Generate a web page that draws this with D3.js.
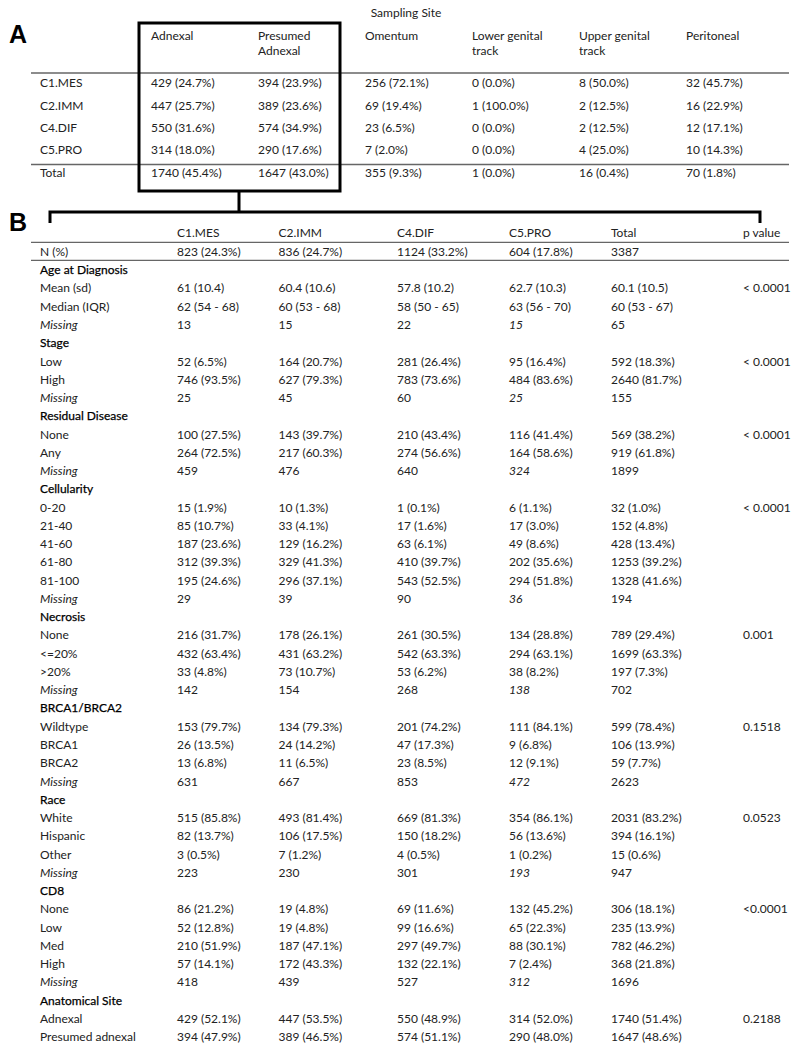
<!DOCTYPE html>
<html>
<head>
<meta charset="utf-8">
<script src="https://cdn.jsdelivr.net/npm/d3@7"></script>
<style>
  body { margin: 0; background: #fff; }
  text { font-family: Lato, "Open Sans", sans-serif; font-size: 12px; fill: #222; }
  .panel { font-family: "Liberation Sans", Arial, sans-serif; font-size: 25px; font-weight: bold; fill: #000; }
  .grp { fill: #000; stroke: #000; stroke-width: 0.25px; }
  .rule { stroke: #666; stroke-width: 1.3px; }
</style>
</head>
<body>
<div id="chart"></div>
<script>
// ---- Panel A: sampling site by cluster ----
var siteNames = ["Adnexal", "Presumed|Adnexal", "Omentum", "Lower genital|track", "Upper genital|track", "Peritoneal"];
var clusterNames = ["C1.MES", "C2.IMM", "C4.DIF", "C5.PRO"];
var siteC1 = ["429 (24.7%)", "394 (23.9%)", "256 (72.1%)", "0 (0.0%)", "8 (50.0%)", "32 (45.7%)"];
var siteC2 = ["447 (25.7%)", "389 (23.6%)", "69 (19.4%)", "1 (100.0%)", "2 (12.5%)", "16 (22.9%)"];
var siteC4 = ["550 (31.6%)", "574 (34.9%)", "23 (6.5%)", "0 (0.0%)", "2 (12.5%)", "12 (17.1%)"];
var siteC5 = ["314 (18.0%)", "290 (17.6%)", "7 (2.0%)", "0 (0.0%)", "4 (25.0%)", "10 (14.3%)"];
var siteTotal = ["1740 (45.4%)", "1647 (43.0%)", "355 (9.3%)", "1 (0.0%)", "16 (0.4%)", "70 (1.8%)"];

// ---- Panel B: clinical characteristics by cluster ----
var colNames = ["C1.MES", "C2.IMM", "C4.DIF", "C5.PRO", "Total", "p value"];
var nRow = ["823 (24.3%)", "836 (24.7%)", "1124 (33.2%)", "604 (17.8%)", "3387", ""];

var ageRows = [
    ["Mean (sd)", "61 (10.4)", "60.4 (10.6)", "57.8 (10.2)", "62.7 (10.3)", "60.1 (10.5)"],
    ["Median (IQR)", "62 (54 - 68)", "60 (53 - 68)", "58 (50 - 65)", "63 (56 - 70)", "60 (53 - 67)"],
    ["Missing", "13", "15", "22", "15", "65"]
];
var stageRows = [
    ["Low", "52 (6.5%)", "164 (20.7%)", "281 (26.4%)", "95 (16.4%)", "592 (18.3%)"],
    ["High", "746 (93.5%)", "627 (79.3%)", "783 (73.6%)", "484 (83.6%)", "2640 (81.7%)"],
    ["Missing", "25", "45", "60", "25", "155"]
];
var residualRows = [
    ["None", "100 (27.5%)", "143 (39.7%)", "210 (43.4%)", "116 (41.4%)", "569 (38.2%)"],
    ["Any", "264 (72.5%)", "217 (60.3%)", "274 (56.6%)", "164 (58.6%)", "919 (61.8%)"],
    ["Missing", "459", "476", "640", "324", "1899"]
];
var cellularityRows = [
    ["0-20", "15 (1.9%)", "10 (1.3%)", "1 (0.1%)", "6 (1.1%)", "32 (1.0%)"],
    ["21-40", "85 (10.7%)", "33 (4.1%)", "17 (1.6%)", "17 (3.0%)", "152 (4.8%)"],
    ["41-60", "187 (23.6%)", "129 (16.2%)", "63 (6.1%)", "49 (8.6%)", "428 (13.4%)"],
    ["61-80", "312 (39.3%)", "329 (41.3%)", "410 (39.7%)", "202 (35.6%)", "1253 (39.2%)"],
    ["81-100", "195 (24.6%)", "296 (37.1%)", "543 (52.5%)", "294 (51.8%)", "1328 (41.6%)"],
    ["Missing", "29", "39", "90", "36", "194"]
];
var necrosisRows = [
    ["None", "216 (31.7%)", "178 (26.1%)", "261 (30.5%)", "134 (28.8%)", "789 (29.4%)"],
    ["<=20%", "432 (63.4%)", "431 (63.2%)", "542 (63.3%)", "294 (63.1%)", "1699 (63.3%)"],
    [">20%", "33 (4.8%)", "73 (10.7%)", "53 (6.2%)", "38 (8.2%)", "197 (7.3%)"],
    ["Missing", "142", "154", "268", "138", "702"]
];
var brcaRows = [
    ["Wildtype", "153 (79.7%)", "134 (79.3%)", "201 (74.2%)", "111 (84.1%)", "599 (78.4%)"],
    ["BRCA1", "26 (13.5%)", "24 (14.2%)", "47 (17.3%)", "9 (6.8%)", "106 (13.9%)"],
    ["BRCA2", "13 (6.8%)", "11 (6.5%)", "23 (8.5%)", "12 (9.1%)", "59 (7.7%)"],
    ["Missing", "631", "667", "853", "472", "2623"]
];
var raceRows = [
    ["White", "515 (85.8%)", "493 (81.4%)", "669 (81.3%)", "354 (86.1%)", "2031 (83.2%)"],
    ["Hispanic", "82 (13.7%)", "106 (17.5%)", "150 (18.2%)", "56 (13.6%)", "394 (16.1%)"],
    ["Other", "3 (0.5%)", "7 (1.2%)", "4 (0.5%)", "1 (0.2%)", "15 (0.6%)"],
    ["Missing", "223", "230", "301", "193", "947"]
];
var cd8Rows = [
    ["None", "86 (21.2%)", "19 (4.8%)", "69 (11.6%)", "132 (45.2%)", "306 (18.1%)"],
    ["Low", "52 (12.8%)", "19 (4.8%)", "99 (16.6%)", "65 (22.3%)", "235 (13.9%)"],
    ["Med", "210 (51.9%)", "187 (47.1%)", "297 (49.7%)", "88 (30.1%)", "782 (46.2%)"],
    ["High", "57 (14.1%)", "172 (43.3%)", "132 (22.1%)", "7 (2.4%)", "368 (21.8%)"],
    ["Missing", "418", "439", "527", "312", "1696"]
];
var siteRows = [
    ["Adnexal", "429 (52.1%)", "447 (53.5%)", "550 (48.9%)", "314 (52.0%)", "1740 (51.4%)"],
    ["Presumed adnexal", "394 (47.9%)", "389 (46.5%)", "574 (51.1%)", "290 (48.0%)", "1647 (48.6%)"]
];

var groupNames = ["Age at Diagnosis", "Stage", "Residual Disease", "Cellularity", "Necrosis",
                  "BRCA1/BRCA2", "Race", "CD8", "Anatomical Site"];
var groupRows = [ageRows, stageRows, residualRows, cellularityRows, necrosisRows,
                 brcaRows, raceRows, cd8Rows, siteRows];
var pValues = ["< 0.0001", "< 0.0001", "< 0.0001", "< 0.0001", "0.001", "0.1518", "0.0523", "<0.0001", "0.2188"];

function init() {
    var w = 798, h = 1050;
    var lineLeft = 31, lineRight = 789;

    var svg = d3.select("#chart").append("svg")
        .attr("width", w)
        .attr("height", h);

    // ---------------- Panel A ----------------
    var xA = d3.scalePoint().domain(d3.range(siteNames.length)).range([151, 686]);
    var yA = d3.scaleLinear().domain([0, 4]).range([83, 172.5]);
    var rowsA = [siteC1, siteC2, siteC4, siteC5];

    svg.append("text").attr("class", "panel").attr("x", 9).attr("y", 43).text("A");

    svg.append("text")
        .attr("x", 406).attr("y", 17)
        .attr("text-anchor", "middle")
        .text("Sampling Site");

    // column headers (two lines)
    var headA = svg.append("g");
    siteNames.forEach(function (name, i) {
        var t = headA.append("text").attr("x", xA(i)).attr("y", 39.5);
        name.split("|").forEach(function (part, k) {
            t.append("tspan").attr("x", xA(i)).attr("dy", k === 0 ? 0 : 15.5).text(part);
        });
    });

    svg.append("line").attr("class", "rule")
        .attr("x1", lineLeft).attr("x2", lineRight).attr("y1", 73).attr("y2", 73);
    svg.append("line").attr("class", "rule")
        .attr("x1", lineLeft).attr("x2", lineRight).attr("y1", 164.5).attr("y2", 164.5);

    // body cells
    var allA = rowsA.concat([siteTotal]);
    var labelsA = clusterNames.concat(["Total"]);
    allA.forEach(function (row, r) {
        svg.append("text").attr("x", 40).attr("y", yA(r)).attr("dy", "0.35em").text(labelsA[r]);
        svg.selectAll(null)
            .data(row)
            .enter()
            .append("text")
            .attr("x", (d, i) => xA(i))
            .attr("y", yA(r))
            .attr("dy", "0.35em")
            .text(d => d);
    });

    // highlight box around adnexal columns
    svg.append("rect")
        .attr("x", 139).attr("y", 23)
        .attr("width", 201).attr("height", 168)
        .attr("fill", "none")
        .attr("stroke", "#000")
        .attr("stroke-width", 3);

    // bracket linking panel A to B
    svg.append("path")
        .attr("d", "M239,191 V212 M50,223 V212 H760 V223")
        .attr("fill", "none")
        .attr("stroke", "#000")
        .attr("stroke-width", 3);

    // ---------------- Panel B ----------------
    svg.append("text").attr("class", "panel").attr("x", 9).attr("y", 231).text("B");

    var xB = d3.scaleOrdinal().domain(colNames).range([177, 278.5, 397, 509, 611, 743]);

    svg.selectAll(null)
        .data(colNames)
        .enter()
        .append("text")
        .attr("x", d => xB(d))
        .attr("y", 232.5)
        .attr("dy", "0.35em")
        .text(d => d);

    svg.append("line").attr("class", "rule")
        .attr("x1", lineLeft).attr("x2", lineRight).attr("y1", 242.3).attr("y2", 242.3);

    svg.append("text").attr("x", 40).attr("y", 252).attr("dy", "0.35em").text("N (%)");
    svg.selectAll(null)
        .data(nRow)
        .enter()
        .append("text")
        .attr("x", (d, i) => xB(colNames[i]))
        .attr("y", 252)
        .attr("dy", "0.35em")
        .text(d => d);

    svg.append("line").attr("class", "rule")
        .attr("x1", lineLeft).attr("x2", lineRight).attr("y1", 260.3).attr("y2", 260.3);

    // flatten groups into ordered rows
    var flat = [];
    groupNames.forEach(function (g, gi) {
        flat.push({ type: "group", label: g });
        groupRows[gi].forEach(function (row, ri) {
            flat.push({ type: "row", label: row[0], values: row.slice(1), p: ri === 0 ? pValues[gi] : "" });
        });
    });

    var yB = d3.scaleLinear().domain([0, flat.length - 1]).range([270, 1037]);

    flat.forEach(function (d, r) {
        if (d.type === "group") {
            svg.append("text").attr("class", "grp")
                .attr("x", 40).attr("y", yB(r)).attr("dy", "0.35em")
                .text(d.label);
            return;
        }
        var missing = d.label === "Missing";
        svg.append("text")
            .attr("x", 40).attr("y", yB(r)).attr("dy", "0.35em")
            .style("font-style", missing ? "italic" : null)
            .text(d.label);
        svg.selectAll(null)
            .data(d.values.concat([d.p]))
            .enter()
            .append("text")
            .attr("x", (v, i) => xB(colNames[i]))
            .attr("y", yB(r))
            .attr("dy", "0.35em")
            // the C5.PRO missing counts are italic in the source
            .style("font-style", (v, i) => (missing && i === 3) ? "italic" : null)
            .text(v => v);
    });
}

window.onload = init;
</script>
</body>
</html>
